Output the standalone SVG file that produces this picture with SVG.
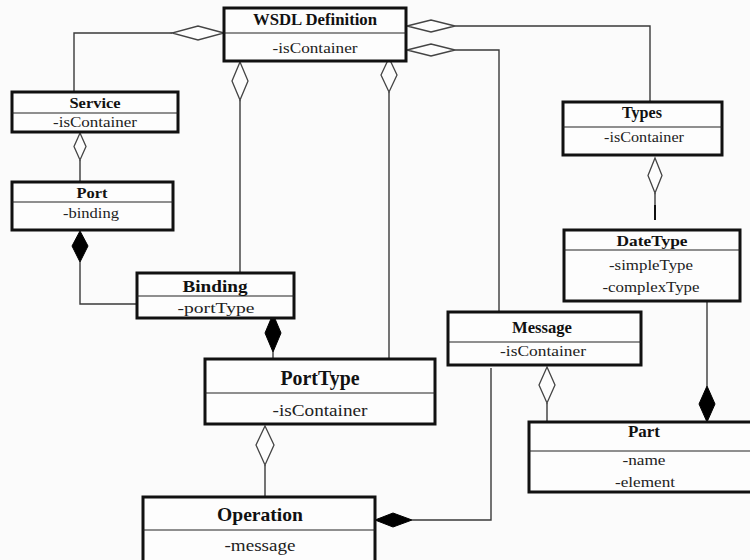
<svg xmlns="http://www.w3.org/2000/svg" width="750" height="560" viewBox="0 0 750 560">
  <style>
    .box { fill: #fdfdfd; stroke: #111; stroke-width: 3; }
    .div { stroke: #222; stroke-width: 1.2; }
    .t { font-family: "Liberation Serif", "Times New Roman", serif; font-weight: bold; fill: #111; text-anchor: middle; }
    .a { font-family: "Liberation Serif", "Times New Roman", serif; fill: #222; text-anchor: middle; }
    .ln { fill: none; stroke: #3a3a3a; stroke-width: 1.4; }
    .hd { fill: #fdfdfd; stroke: #444; stroke-width: 1.3; }
    .fd { fill: #000; stroke: #000; stroke-width: 1; }
  </style>
  <rect width="750" height="560" fill="#fbfbfb"/>

  <!-- connectors: hollow diamonds mark aggregation, filled ones composition -->
  <g id="connectors">
    <!-- WSDL Definition to Service -->
    <polyline class="ln" points="172,33 74,33 74,92"/>
    <polygon class="hd" points="224,33 198,26 172,33 198,40"/>
    <!-- WSDL Definition to Types -->
    <polyline class="ln" points="455,26 650,26 650,102"/>
    <polygon class="hd" points="407,26 431,20 455,26 431,32"/>
    <!-- WSDL Definition to Message -->
    <polyline class="ln" points="455,50 499,50 499,312"/>
    <polygon class="hd" points="407,50 431,44 455,50 431,56"/>
    <!-- WSDL Definition to Binding -->
    <line class="ln" x1="240" y1="100" x2="240" y2="273"/>
    <polygon class="hd" points="240,62 248,81 240,100 232,81"/>
    <!-- WSDL Definition to PortType -->
    <line class="ln" x1="389" y1="92" x2="389" y2="359"/>
    <polygon class="hd" points="389,58 397,75 389,92 381,75"/>
    <!-- Service to Port -->
    <line class="ln" x1="80" y1="160" x2="80" y2="182"/>
    <polygon class="hd" points="80,133 86,146.5 80,160 74,146.5"/>
    <!-- Port to Binding -->
    <polyline class="ln" points="80,262 80,304 137,304"/>
    <polygon class="fd" points="80,231 88,246 80,262 72,246"/>
    <!-- Binding to PortType -->
    <line class="ln" x1="273" y1="352" x2="273" y2="359"/>
    <polygon class="fd" points="273,314 281,333 273,352 265,333"/>
    <!-- PortType to Operation -->
    <line class="ln" x1="265" y1="465" x2="265" y2="497"/>
    <polygon class="hd" points="265,426 274,445 265,465 256,445"/>
    <!-- Message to Operation -->
    <polyline class="ln" points="491,368 491,520 412,520"/>
    <polygon class="fd" points="375,520 393,513 412,520 393,527"/>
    <!-- Message to Part -->
    <line class="ln" x1="547" y1="403" x2="547" y2="422"/>
    <polygon class="hd" points="547,367 555,385 547,403 539,385"/>
    <!-- Types to DateType -->
    <line class="ln" x1="655" y1="193" x2="655" y2="205"/>
    <line x1="655" y1="205" x2="655" y2="220" stroke="#111" stroke-width="2"/>
    <polygon class="hd" points="655,158 662,175.5 655,193 648,175.5"/>
    <!-- DateType to Part -->
    <line class="ln" x1="707" y1="301" x2="707" y2="386"/>
    <polygon class="fd" points="707,386 715,404 707,422 699,404"/>
  </g>

  <g id="wsdl-definition">
    <rect class="box" x="224" y="8" width="182" height="53"/>
    <line class="div" x1="224" y1="33" x2="406" y2="33"/>
    <text class="t" x="315" y="25" style="font-size:17px" textLength="124" lengthAdjust="spacingAndGlyphs">WSDL Definition</text>
    <text class="a" x="315" y="53" style="font-size:14px" textLength="85" lengthAdjust="spacingAndGlyphs">-isContainer</text>
  </g>

  <g id="service">
    <rect class="box" x="12" y="92" width="166" height="40"/>
    <line class="div" x1="12" y1="113" x2="178" y2="113"/>
    <text class="t" x="95" y="108" style="font-size:15px" textLength="51" lengthAdjust="spacingAndGlyphs">Service</text>
    <text class="a" x="95" y="127" style="font-size:14px" textLength="84" lengthAdjust="spacingAndGlyphs">-isContainer</text>
  </g>

  <g id="port">
    <rect class="box" x="12" y="182" width="161" height="48"/>
    <line class="div" x1="12" y1="202" x2="173" y2="202"/>
    <text class="t" x="92" y="198" style="font-size:15px" textLength="31" lengthAdjust="spacingAndGlyphs">Port</text>
    <text class="a" x="91" y="218" style="font-size:14px" textLength="56" lengthAdjust="spacingAndGlyphs">-binding</text>
  </g>

  <g id="binding">
    <rect class="box" x="137" y="273" width="157" height="45"/>
    <line class="div" x1="137" y1="296" x2="294" y2="296"/>
    <text class="t" x="215" y="292" style="font-size:17px" textLength="65" lengthAdjust="spacingAndGlyphs">Binding</text>
    <text class="a" x="216" y="313" style="font-size:15px" textLength="77" lengthAdjust="spacingAndGlyphs">-portType</text>
  </g>

  <g id="porttype">
    <rect class="box" x="205" y="359" width="230" height="65"/>
    <line class="div" x1="205" y1="393" x2="435" y2="393"/>
    <text class="t" x="320" y="385" style="font-size:20px" textLength="79" lengthAdjust="spacingAndGlyphs">PortType</text>
    <text class="a" x="320" y="416" style="font-size:16px" textLength="95" lengthAdjust="spacingAndGlyphs">-isContainer</text>
  </g>

  <g id="operation">
    <rect class="box" x="143" y="497" width="232" height="75"/>
    <line class="div" x1="143" y1="530" x2="375" y2="530"/>
    <text class="t" x="260" y="521" style="font-size:19px" textLength="86" lengthAdjust="spacingAndGlyphs">Operation</text>
    <text class="a" x="260" y="551" style="font-size:16px" textLength="71" lengthAdjust="spacingAndGlyphs">-message</text>
  </g>

  <g id="message">
    <rect class="box" x="448" y="312" width="193" height="53"/>
    <line class="div" x1="448" y1="342" x2="641" y2="342"/>
    <text class="t" x="542" y="333" style="font-size:16px" textLength="60" lengthAdjust="spacingAndGlyphs">Message</text>
    <text class="a" x="543" y="356" style="font-size:14px" textLength="86" lengthAdjust="spacingAndGlyphs">-isContainer</text>
  </g>

  <g id="types">
    <rect class="box" x="563" y="102" width="159" height="53"/>
    <line class="div" x1="563" y1="127" x2="722" y2="127"/>
    <text class="t" x="642" y="118" style="font-size:16px" textLength="40" lengthAdjust="spacingAndGlyphs">Types</text>
    <text class="a" x="644" y="142" style="font-size:14px" textLength="80" lengthAdjust="spacingAndGlyphs">-isContainer</text>
  </g>

  <g id="datetype">
    <rect class="box" x="564" y="230" width="176" height="71"/>
    <line class="div" x1="564" y1="250" x2="740" y2="250"/>
    <text class="t" x="652" y="246" style="font-size:15px" textLength="71" lengthAdjust="spacingAndGlyphs">DateType</text>
    <text class="a" x="651" y="270" style="font-size:14px" textLength="84" lengthAdjust="spacingAndGlyphs">-simpleType</text>
    <text class="a" x="651" y="292" style="font-size:14px" textLength="97" lengthAdjust="spacingAndGlyphs">-complexType</text>
  </g>

  <g id="part">
    <rect class="box" x="529" y="422" width="232" height="70"/>
    <line class="div" x1="529" y1="451" x2="761" y2="451"/>
    <text class="t" x="644" y="437" style="font-size:16px" textLength="32" lengthAdjust="spacingAndGlyphs">Part</text>
    <text class="a" x="644" y="465" style="font-size:14px" textLength="43" lengthAdjust="spacingAndGlyphs">-name</text>
    <text class="a" x="645" y="487" style="font-size:14px" textLength="60" lengthAdjust="spacingAndGlyphs">-element</text>
  </g>
</svg>
